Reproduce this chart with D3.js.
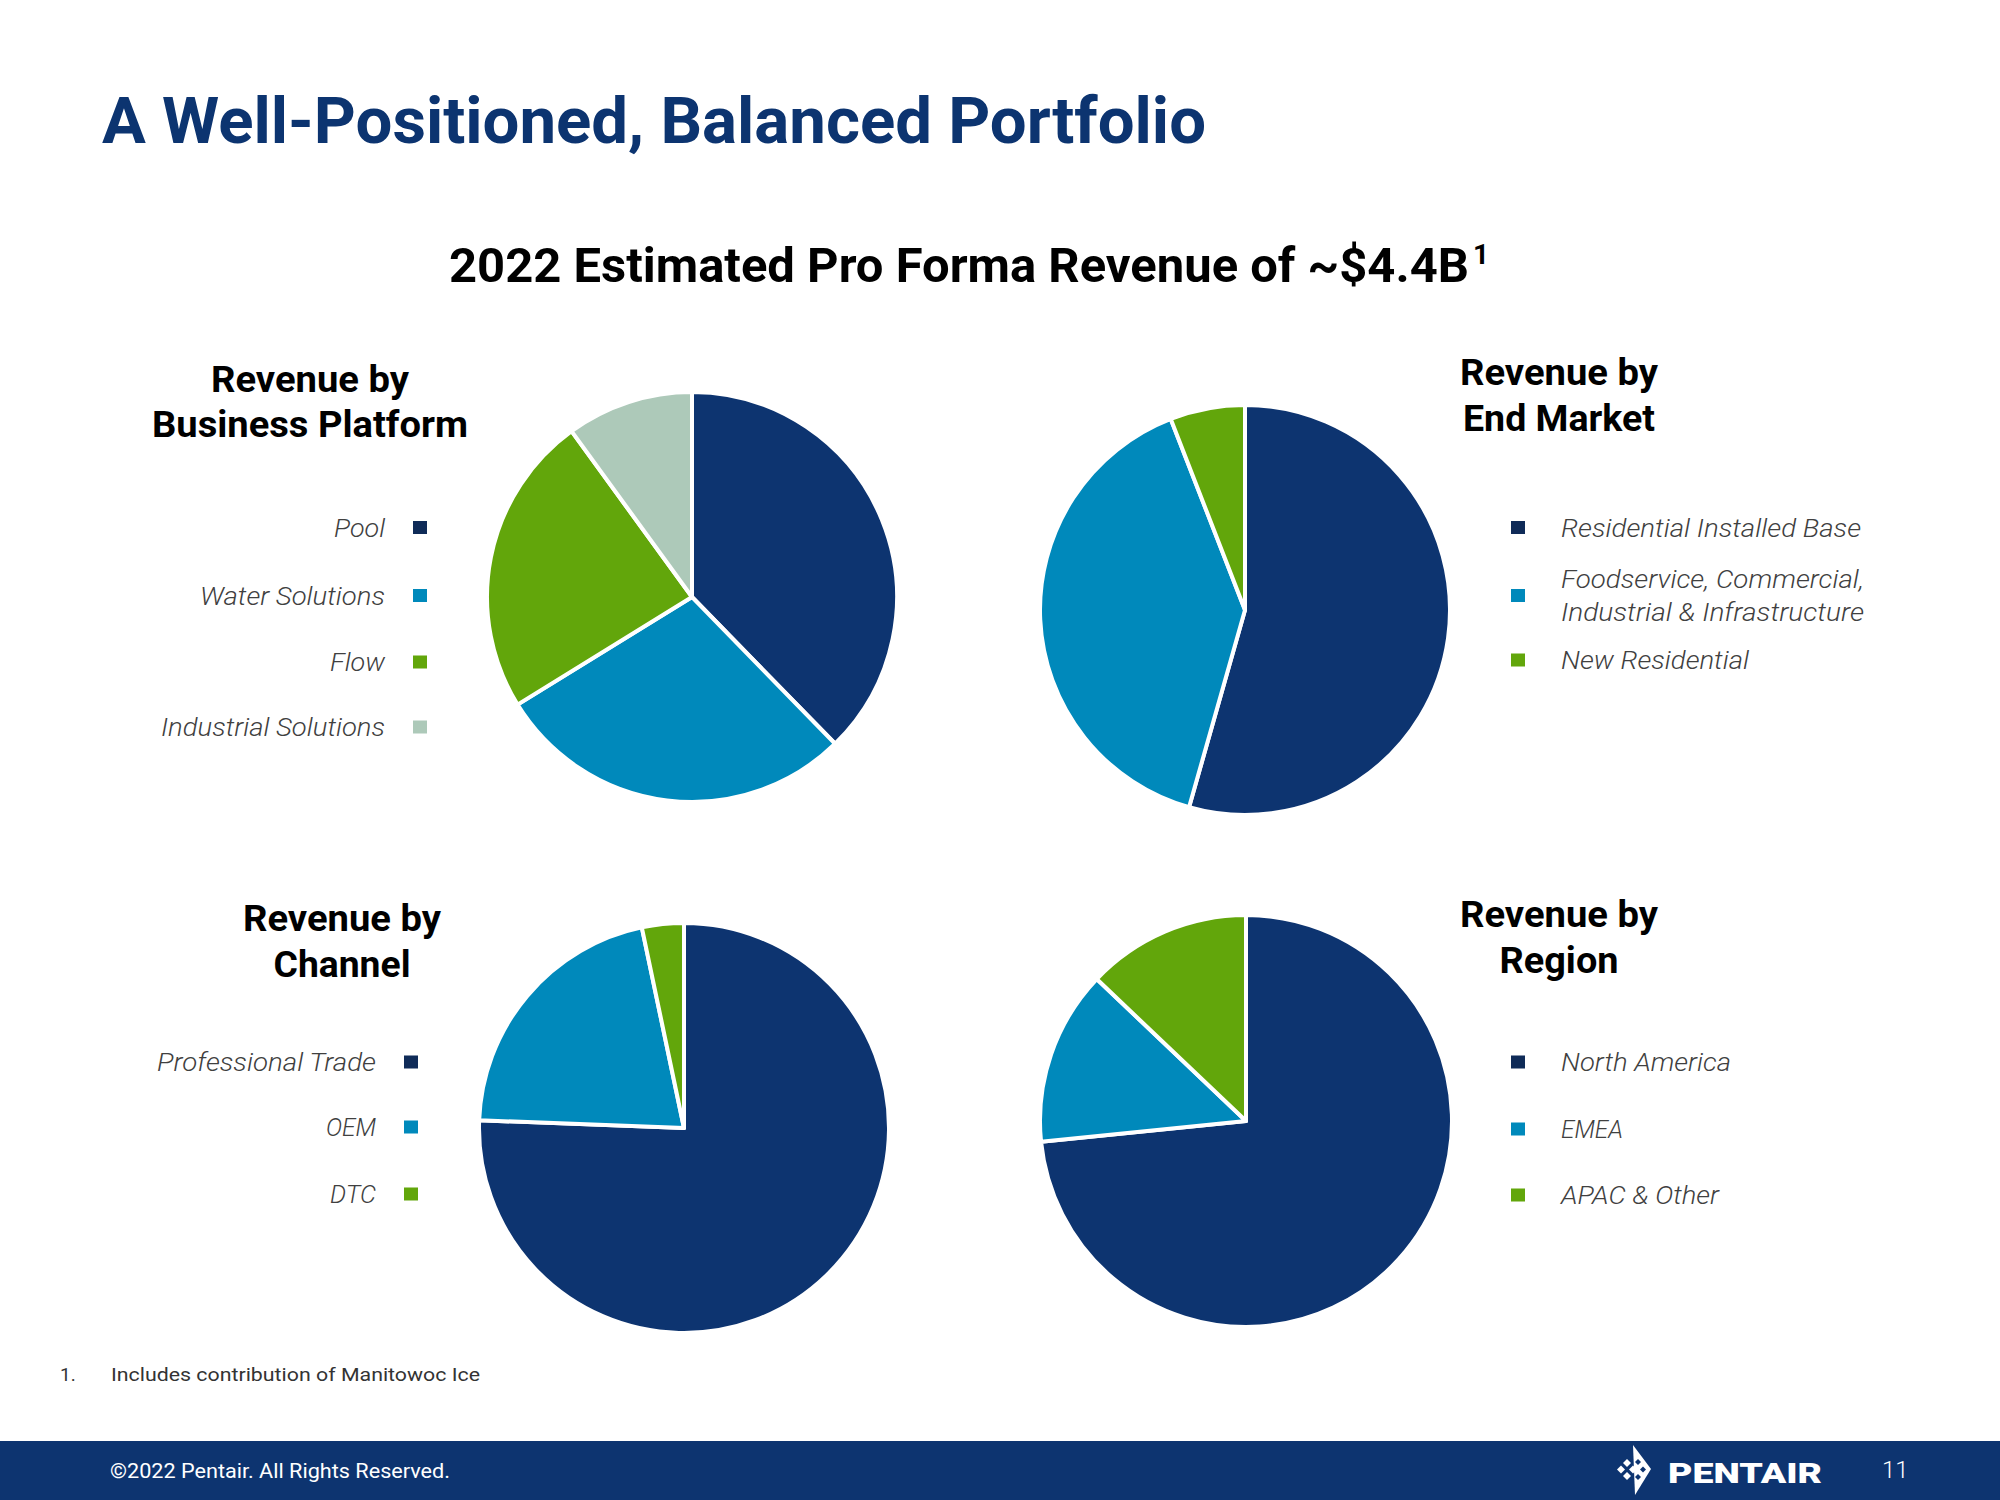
<!DOCTYPE html>
<html>
<head>
<meta charset="utf-8">
<script src="https://cdn.jsdelivr.net/npm/d3@7"></script>
<style>
  html, body { margin: 0; padding: 0; background: #ffffff; }
  svg { display: block; }
</style>
</head>
<body>
<svg id="chart" width="2000" height="1500"></svg>
<script>
// ---------- data ----------
const platformLabels = ["Pool", "Water Solutions", "Flow", "Industrial Solutions"];
const platformValues = [37.7, 28.5, 23.8, 10.0];

const endMarketLabels = ["Residential Installed Base", "Foodservice, Commercial,|Industrial & Infrastructure", "New Residential"];
const endMarketValues = [54.4, 39.7, 5.9];

const channelLabels = ["Professional Trade", "OEM", "DTC"];
const channelValues = [75.6, 21.1, 3.3];

const regionLabels = ["North America", "EMEA", "APAC & Other"];
const regionValues = [73.4, 13.7, 12.9];

const pageTitle = "A Well-Positioned, Balanced Portfolio";
const chartTitle = "2022 Estimated Pro Forma Revenue of ~$4.4B";
const footnote = "Includes contribution of Manitowoc Ice";
const copyright = "\u00A92022 Pentair. All Rights Reserved.";
const pageNumber = "11";

// ---------- style ----------
const sliceColors = ["#0d3470", "#0089bb", "#62a60b", "#adc9b9"];
const legendColors = ["#0f2b58", "#0089bb", "#62a60b", "#adc9b9"];
const navy = "#0d3470";
const FONT = "Roboto, 'Open Sans', sans-serif";

const svg = d3.select("#chart");

// page title
svg.append("text")
  .attr("x", 102).attr("y", 143)
  .attr("font-family", FONT).attr("font-weight", 700).attr("font-size", 64)
  .attr("fill", "#0c3470")
  .attr("textLength", 1104).attr("lengthAdjust", "spacingAndGlyphs")
  .text(pageTitle);

// chart title
svg.append("text")
  .attr("x", 449).attr("y", 282)
  .attr("font-family", FONT).attr("font-weight", 700).attr("font-size", 48)
  .attr("fill", "#000")
  .attr("textLength", 1020).attr("lengthAdjust", "spacingAndGlyphs")
  .text(chartTitle);
svg.append("text")
  .attr("x", 1473).attr("y", 264)
  .attr("font-family", FONT).attr("font-weight", 700).attr("font-size", 28)
  .attr("fill", "#000")
  .text("1");

// ---------- pies ----------
const panels = [
  { labels: platformLabels, values: platformValues, cx: 692, cy: 597, r: 205,
    heading: ["Revenue by", "Business Platform"], hx: 310, hy: [392, 437], hw: [198, 316],
    legendSide: "left", labelX: 385, squareX: 413, rowsY: [527.5, 595.5, 662, 727] },
  { labels: endMarketLabels, values: endMarketValues, cx: 1245, cy: 610, r: 205,
    heading: ["Revenue by", "End Market"], hx: 1559, hy: [385, 431], hw: [198, 192],
    legendSide: "right", labelX: 1561, squareX: 1511, rowsY: [527.5, 595.5, 660] },
  { labels: channelLabels, values: channelValues, cx: 684, cy: 1128, r: 205,
    heading: ["Revenue by", "Channel"], hx: 342, hy: [931, 977], hw: [198, 137],
    legendSide: "left", labelX: 376, squareX: 404, rowsY: [1062, 1127, 1194] },
  { labels: regionLabels, values: regionValues, cx: 1246, cy: 1121, r: 206,
    heading: ["Revenue by", "Region"], hx: 1559, hy: [927, 973], hw: [198, 119],
    legendSide: "right", labelX: 1561, squareX: 1511, rowsY: [1062, 1129, 1195] }
];

const labelWidths = {
  "Pool": 51, "Water Solutions": 185, "Flow": 55, "Industrial Solutions": 224,
  "Residential Installed Base": 300, "Foodservice, Commercial,": 303, "Industrial & Infrastructure": 303,
  "New Residential": 188, "Professional Trade": 219, "OEM": 50, "DTC": 46,
  "North America": 170, "EMEA": 62, "APAC & Other": 158
};

const pie = d3.pie().sort(null).value(d => d);

panels.forEach(p => {
  const g = svg.append("g").attr("transform", `translate(${p.cx},${p.cy})`);
  const arc = d3.arc().innerRadius(0).outerRadius(p.r);
  g.selectAll("path")
    .data(pie(p.values))
    .join("path")
    .attr("d", arc)
    .attr("fill", (d, i) => sliceColors[i])
    .attr("stroke", "#ffffff")
    .attr("stroke-width", 4)
    .attr("stroke-linejoin", "round");

  // heading
  p.heading.forEach((line, i) => {
    svg.append("text")
      .attr("x", p.hx).attr("y", p.hy[i])
      .attr("text-anchor", "middle")
      .attr("font-family", FONT).attr("font-weight", 700).attr("font-size", 36)
      .attr("fill", "#000")
      .attr("textLength", p.hw[i]).attr("lengthAdjust", "spacingAndGlyphs")
      .text(line);
  });

  // legend
  p.labels.forEach((lab, i) => {
    const y = p.rowsY[i];
    svg.append("rect")
      .attr("x", p.squareX).attr("y", y - 6.5)
      .attr("width", 14).attr("height", 13)
      .attr("fill", legendColors[i]);
    const lines = lab.split("|");
    const lh = 33;
    const y0 = y - (lines.length - 1) * lh / 2;
    lines.forEach((ln, j) => {
      svg.append("text")
        .attr("x", p.labelX).attr("y", y0 + j * lh + 9)
        .attr("text-anchor", p.legendSide === "left" ? "end" : "start")
        .attr("font-family", FONT).attr("font-weight", 300).attr("font-style", "italic")
        .attr("font-size", 25).attr("fill", "#404040")
        .attr("textLength", labelWidths[ln] || null).attr("lengthAdjust", "spacingAndGlyphs")
        .text(ln);
    });
  });
});

// footnote
svg.append("text").attr("x", 60).attr("y", 1381)
  .attr("font-family", FONT).attr("font-size", 19).attr("fill", "#333")
  .text("1.");
svg.append("text").attr("x", 111).attr("y", 1381)
  .attr("font-family", FONT).attr("font-size", 19).attr("fill", "#333")
  .attr("textLength", 369).attr("lengthAdjust", "spacingAndGlyphs")
  .text(footnote);

// footer bar
svg.append("rect").attr("x", 0).attr("y", 1441).attr("width", 2000).attr("height", 59).attr("fill", navy);
svg.append("text").attr("x", 110).attr("y", 1478)
  .attr("font-family", FONT).attr("font-size", 21).attr("fill", "#ffffff")
  .attr("textLength", 340).attr("lengthAdjust", "spacingAndGlyphs")
  .text(copyright);

// logo
const logo = svg.append("g");
logo.append("path")
  .attr("d", "M1633,1445 L1651,1469 L1635,1495 Z")
  .attr("fill", "#ffffff");
[[1627,1463],[1627,1476],[1621,1469.5],[1633,1469.5]].forEach(([x, y]) => {
  logo.append("path")
    .attr("d", `M${x},${y-4} L${x+4},${y} L${x},${y+4} L${x-4},${y} Z`)
    .attr("fill", "#ffffff");
});
[[1638,1462],[1638,1477],[1643,1469.5]].forEach(([x, y]) => {
  logo.append("path")
    .attr("d", `M${x},${y-3} L${x+3},${y} L${x},${y+3} L${x-3},${y} Z`)
    .attr("fill", navy);
});
svg.append("text").attr("x", 1668).attr("y", 1483)
  .attr("font-family", FONT).attr("font-weight", 900).attr("font-size", 28).attr("fill", "#ffffff")
  .attr("textLength", 154).attr("lengthAdjust", "spacingAndGlyphs")
  .text("PENTAIR");
svg.append("text").attr("x", 1882).attr("y", 1478)
  .attr("font-family", FONT).attr("font-weight", 300).attr("font-size", 24).attr("fill", "#ffffff")
  .text(pageNumber);
</script>
</body>
</html>
